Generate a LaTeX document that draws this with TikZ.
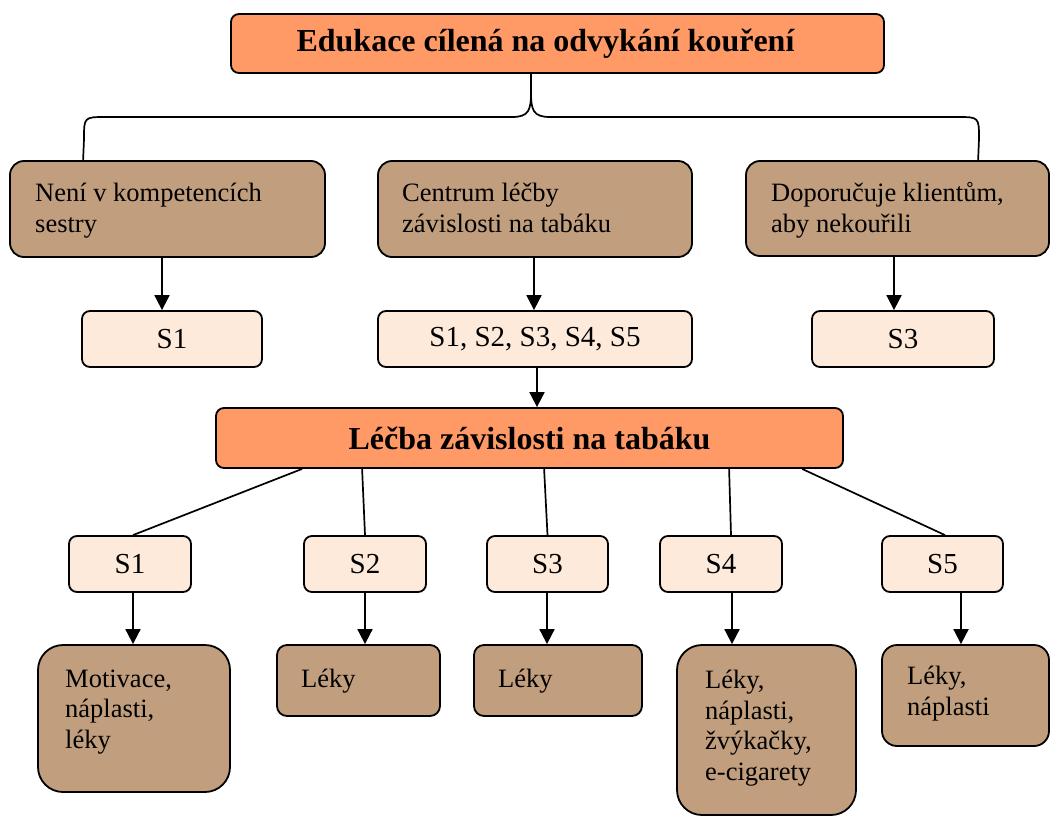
\documentclass[tikz,border=0pt]{standalone}
\usepackage{fontspec}
\setmainfont{Liberation Serif}
\usetikzlibrary{arrows.meta}
\definecolor{headfill}{RGB}{255,153,102}
\definecolor{tanfill}{RGB}{193,158,125}
\definecolor{palefill}{RGB}{253,234,218}

\begin{document}
\begin{tikzpicture}[x=1pt,y=-1pt,
  box/.style={draw=black, line width=1.8pt, inner sep=0pt, anchor=center},
  headbox/.style={box, fill=headfill, rounded corners=8pt, minimum height=59pt,
    font=\fontsize{32}{36}\selectfont\bfseries},
  tanbox/.style={box, fill=tanfill},
  palebox/.style={box, fill=palefill, rounded corners=8pt, minimum height=56pt,
    font=\fontsize{29}{33}\selectfont},
  % multi-line notes are placed by the baseline of their last line
  note/.style={anchor=base west, inner sep=0pt, align=left,
    font=\fontsize{26.5}{30.5}\selectfont},
  link/.style={line width=1.7pt},
  arr/.style={line width=1.8pt, -{Triangle[length=15pt,width=15pt]}}]

\useasboundingbox (0,0) rectangle (1051,816);

% top heading
\node[headbox, minimum width=653pt] (edu) at (557.5,43.5)
  {\hspace*{-24pt}Edukace cílená na odvykání kouření};

% second row
\node[tanbox, rounded corners=14pt, minimum width=315pt, minimum height=96pt] (nene) at (167.5,209) {};
\node[tanbox, rounded corners=14pt, minimum width=314pt, minimum height=96pt] (centrum) at (535,209) {};
\node[tanbox, rounded corners=14pt, minimum width=303pt, minimum height=95pt] (dopor) at (897.5,208.5) {};
\node[note] (neneT) at (35,232) {Není v kompetencích\\sestry};
\node[note] (centrumT) at (402,232) {Centrum léčby\\závislosti na tabáku};
\node[note] (doporT) at (771,232) {Doporučuje klientům,\\aby nekouřili};

% brace from the heading to the second row
\draw[link] ([xshift=74]nene.north west) -- (84,139) .. controls (84,117) .. (106,117)
  -- (512,117) .. controls (529,117) and (531,110) .. (531,92) -- ([xshift=-26.5]edu.south);
\draw[link] ([xshift=-26.5]edu.south) -- (531,92) .. controls (531,110) and (533,117) .. (550,117)
  -- (957,117) .. controls (979,117) .. (979,139) -- ([xshift=233]dopor.north west);

% stage lists
\node[palebox, minimum width=180pt] (sA) at (172,339) {S1};
\node[palebox, minimum width=314pt] (sB) at (535,339) {S1, S2, S3, S4, S5};
\node[palebox, minimum width=182pt] (sC) at (903,339) {S3};

\draw[arr] ([xshift=-5.5]nene.south) -- ([xshift=-5.5]nene.south |- sA.north);
\draw[arr] ([xshift=-1]centrum.south) -- ([xshift=-1]centrum.south |- sB.north);
\draw[arr] ([xshift=-3.5]dopor.south) -- ([xshift=-3.5]dopor.south |- sC.north);

% treatment heading
\node[headbox, minimum width=627pt, minimum height=60pt] (lecba) at (529.5,438) {Léčba závislosti na tabáku};
\draw[arr] ([xshift=2]sB.south) -- ([xshift=2]sB.south |- lecba.north);

% stages
\node[palebox, minimum width=122pt] (s1) at (130,564) {S1};
\node[palebox, minimum width=122pt] (s2) at (365,564) {S2};
\node[palebox, minimum width=121pt] (s3) at (547.5,564) {S3};
\node[palebox, minimum width=122pt] (s4) at (721,564) {S4};
\node[palebox, minimum width=121pt] (s5) at (942.5,564) {S5};

\draw[link] ([xshift=87]lecba.south west) -- ([xshift=3]s1.north);
\draw[link] ([xshift=147]lecba.south west) -- (s2.north);
\draw[link] ([xshift=329]lecba.south west) -- (s3.north);
\draw[link] ([xshift=514]lecba.south west) -- ([xshift=10]s4.north);
\draw[link] ([xshift=587]lecba.south west) -- ([xshift=2.5]s5.north);

% remedies
\node[tanbox, rounded corners=25pt, minimum width=192pt, minimum height=147pt] (r1) at (134,718.5) {};
\node[tanbox, rounded corners=10pt, minimum width=163pt, minimum height=71pt] (r2) at (358.5,680.5) {};
\node[tanbox, rounded corners=10pt, minimum width=168pt, minimum height=71pt] (r3) at (558,680.5) {};
\node[tanbox, rounded corners=25pt, minimum width=179pt, minimum height=170pt] (r4) at (766.5,730) {};
\node[tanbox, rounded corners=15pt, minimum width=167pt, minimum height=101pt] (r5) at (965.5,695.5) {};

\node[note] (r1T) at (65,748) {Motivace,\\náplasti,\\léky};
\node[note] (r2T) at (301,687) {Léky};
\node[note] (r3T) at (498,687) {Léky};
\node[note] (r4T) at (705,780) {Léky,\\náplasti,\\žvýkačky,\\e-cigarety};
\node[note] (r5T) at (907,715) {Léky,\\náplasti};

\draw[arr] ([xshift=3]s1.south) -- ([xshift=3]s1.south |- r1.north);
\draw[arr] (s2.south) -- (s2.south |- r2.north);
\draw[arr] ([xshift=-0.5]s3.south) -- ([xshift=-0.5]s3.south |- r3.north);
\draw[arr] ([xshift=11]s4.south) -- ([xshift=11]s4.south |- r4.north);
\draw[arr] ([xshift=18.5]s5.south) -- ([xshift=18.5]s5.south |- r5.north);

\end{tikzpicture}
\end{document}
